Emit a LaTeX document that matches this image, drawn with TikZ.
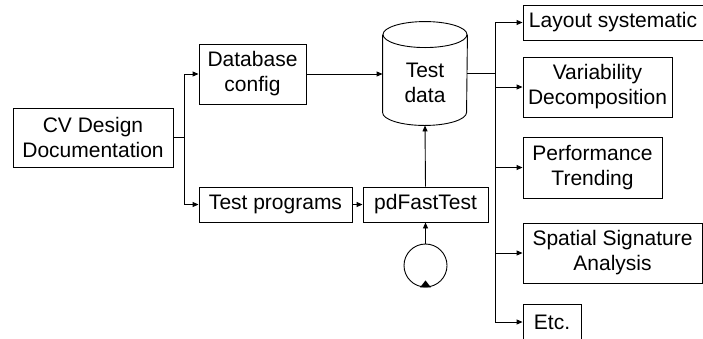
\documentclass[tikz,border=0pt]{standalone}
\usepackage{fontspec}
\setmainfont{Liberation Sans}
\usetikzlibrary{arrows.meta}
\begin{document}
\begin{tikzpicture}[x=1pt,y=-1pt,
  >={Triangle[length=6pt,width=5pt]},
  every path/.style={line width=0.9pt},
  box/.style={draw, line width=0.9pt, inner sep=0pt, align=center,
    font=\fontsize{21}{25}\selectfont},
  lbl/.style={inner sep=0pt, align=center, font=\fontsize{21}{25}\selectfont}]
\useasboundingbox (0,0) rectangle (703,338);

% left part
\node[box, minimum width=160pt, minimum height=59pt] (cv) at (93,137.5) {CV Design\\Documentation};
\node[box, minimum width=107pt, minimum height=60pt] (db) at (252.5,74) {Database\\config};
\node[box, minimum width=153pt, minimum height=35pt] (tp) at (275.5,204.5) {Test programs};
\node[box, minimum width=125pt, minimum height=35pt] (pd) at (425.5,204.5) {pdFastTest};

% cylinder
\node[minimum width=84pt, minimum height=103pt, inner sep=0pt] (cyl) at (425,73.5) {};
\draw ([yshift=-13pt]cyl.north) ellipse [x radius=42pt, y radius=13pt];
\draw ([yshift=-13pt]cyl.north west) -- ([yshift=13pt]cyl.south west)
  arc[start angle=180, end angle=360, x radius=42pt, y radius=13pt]
  -- ([yshift=-13pt]cyl.north east);
\node[lbl] (tdl) at (425,83) {Test\\data};

% loop
\node[circle, draw, line width=0.9pt, minimum size=43pt, inner sep=0pt] (loop) at (425.5,265.5) {};
\fill ([xshift=-5.5pt]loop.south) -- ([xshift=5.5pt]loop.south) -- ([yshift=7pt]loop.south) -- cycle;

% right boxes
\node[box, minimum width=180pt, minimum height=35pt] (lay) at (613,22.5) {Layout systematic};
\node[box, minimum width=149pt, minimum height=60pt] (var) at (597.5,87) {Variability\\Decomposition};
\node[box, minimum width=139pt, minimum height=61pt] (perf) at (592.5,167.5) {Performance\\Trending};
\node[box, minimum width=179pt, minimum height=60pt] (spa) at (612.5,253) {Spatial Signature\\Analysis};
\node[box, minimum width=58pt, minimum height=36pt] (etc) at (552,322) {Etc.};

% connectors
\coordinate (b1) at (184,137.5);
\draw (cv.east) -- (b1);
\draw[->] (b1) |- (db.west);
\draw[->] (b1) |- (tp.west);
\draw[->] (tp.east) -- (tp.east -| pd.west);
\draw[->] (db.east) -- (db.east -| cyl.west);
\draw[->] (pd.north) -- (cyl.south);
\draw[->] (loop.north) -- (pd.south);

\coordinate (b2) at (495,73.5);
\draw (cyl.east) -- (b2);
\draw[->] (b2) |- (lay.west);
\draw[->] (b2) |- (var.west);
\draw[->] (b2) |- (perf.west);
\draw[->] (b2) |- (spa.west);
\draw[->] (b2) |- (etc.west);
\end{tikzpicture}
\end{document}
